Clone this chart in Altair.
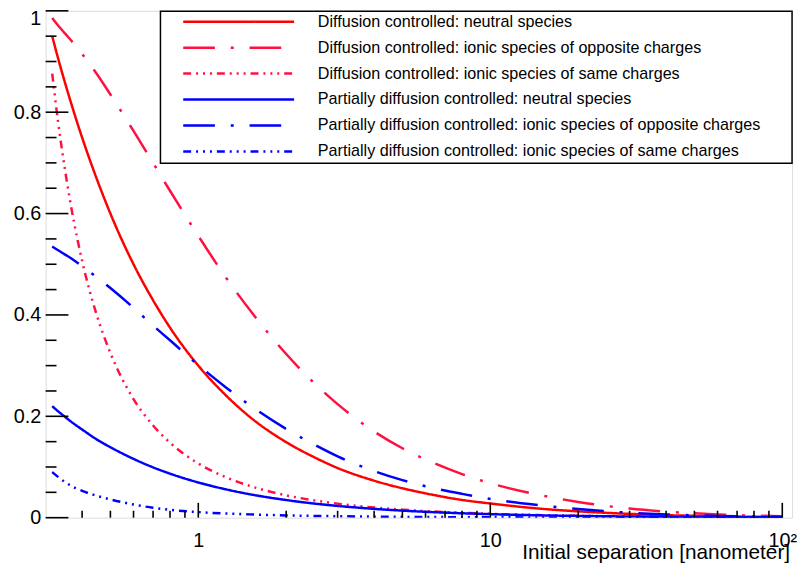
import altair as alt
import pandas as pd

series = [
    "Diffusion controlled: neutral species",
    "Diffusion controlled: ionic species of opposite charges",
    "Diffusion controlled: ionic species of same charges",
    "Partially diffusion controlled: neutral species",
    "Partially diffusion controlled: ionic species of opposite charges",
    "Partially diffusion controlled: ionic species of same charges",
]
colors = ["#ff0000", "#ff1040", "#ff1040", "#0000ff", "#0000ff", "#0000ff"]
dashes = [[1, 0], [32, 16, 3, 16], [8, 5, 2, 5, 2, 5, 2, 5],
          [1, 0], [32, 16, 3, 16], [8, 5, 2, 5, 2, 5, 2, 5]]

separation = [0.316, 0.33, 0.35, 0.375, 0.4, 0.45, 0.5, 0.6, 0.7, 0.8, 1.0, 1.25, 1.5,
              2, 2.5, 3, 4, 5, 6, 8, 10, 15, 20, 30, 40, 60, 80, 100]

diff_neutral = [0.950, 0.909, 0.857, 0.800, 0.750, 0.667, 0.600, 0.500, 0.429, 0.375, 0.300,
                0.240, 0.199, 0.149, 0.119, 0.098, 0.073, 0.058, 0.048, 0.035, 0.028,
                0.0175, 0.0125, 0.0075, 0.005, 0.0028, 0.0018, 0.0012]
diff_opposite = [0.986, 0.972, 0.955, 0.935, 0.915, 0.875, 0.835, 0.763, 0.700, 0.645, 0.556,
                 0.472, 0.410, 0.323, 0.265, 0.224, 0.170, 0.137, 0.115, 0.086, 0.068,
                 0.044, 0.031, 0.018, 0.012, 0.0065, 0.004, 0.0028]
diff_same = [0.876, 0.787, 0.684, 0.584, 0.507, 0.398, 0.325, 0.234, 0.182, 0.148, 0.107,
             0.0792, 0.0627, 0.0441, 0.034, 0.0277, 0.0201, 0.0158, 0.0130, 0.0096, 0.0076,
             0.0050, 0.0037, 0.0025, 0.0018, 0.0012, 0.0009, 0.0007]
part_neutral = [0.220, 0.2106, 0.1986, 0.1853, 0.174, 0.154, 0.139, 0.116, 0.0993, 0.0869, 0.0695,
                0.0556, 0.0463, 0.0348, 0.0278, 0.0232, 0.0174, 0.0139, 0.0116, 0.0087, 0.0070,
                0.0046, 0.0035, 0.0023, 0.0017, 0.0012, 0.0009, 0.0007]
part_opposite = [0.535, 0.528, 0.519, 0.508, 0.496, 0.474, 0.453, 0.414, 0.379, 0.350, 0.301,
                 0.256, 0.222, 0.175, 0.144, 0.121, 0.092, 0.074, 0.062, 0.047, 0.037,
                 0.024, 0.017, 0.0098, 0.0065, 0.0035, 0.0022, 0.0015]
part_same = [0.090, 0.081, 0.070, 0.060, 0.053, 0.043, 0.036, 0.026, 0.0195, 0.0155, 0.011,
             0.0082, 0.0065, 0.0045, 0.0035, 0.0029, 0.0021, 0.0016, 0.0013, 0.0010, 0.0008,
             0.0005, 0.0004, 0.0003, 0.0002, 0.00012, 0.00009, 0.00007]

x_title = ["Initial separation [nanometer]"]
x_major = [1, 10, 100]
x_minor = [0.4, 0.5, 0.6, 0.7, 0.8, 0.9, 2, 3, 4, 5, 6, 7, 8, 9,
           20, 30, 40, 50, 60, 70, 80, 90]
y_major = [0, 0.2, 0.4, 0.6, 0.8, 1.0]
y_minor = [0.05, 0.1, 0.15, 0.25, 0.3, 0.35, 0.45, 0.5, 0.55, 0.65, 0.7, 0.75, 0.85, 0.9, 0.95]

all_values = [diff_neutral, diff_opposite, diff_same, part_neutral, part_opposite, part_same]
rows = []
for name, vals in zip(series, all_values):
    for x, v in zip(separation, vals):
        rows.append({"series": name, "separation": x, "value": v})
df = pd.DataFrame(rows)

FONT = "Liberation Sans"
W, H = 754, 512

xscale = alt.Scale(type="log", domain=[0.3, 108], nice=False)
yscale = alt.Scale(domain=[0, 1], nice=False, zero=False)
cscale = alt.Scale(domain=series, range=colors)
dscale = alt.Scale(domain=series, range=dashes)

lines = alt.Chart(df).mark_line(strokeWidth=2.5, interpolate="monotone", clip=True).encode(
    x=alt.X("separation:Q", scale=xscale,
            axis=alt.Axis(values=x_major, ticks=False, domain=False, grid=False,
                          labelExpr="datum.value >= 100 ? '10\u00b2' : format(datum.value, '~g')",
                          labelFont=FONT, labelFontSize=20, labelColor="black", labelPadding=13,
                          labelFlush=False, labelOverlap=False, title=None)),
    y=alt.Y("value:Q", scale=yscale,
            axis=alt.Axis(values=y_major, format="~g", ticks=False, domain=False, grid=False,
                          labelFont=FONT, labelFontSize=20, labelColor="black", labelPadding=5,
                          labelOffset={"condition": {"test": "datum.value == 1", "value": 8},
                                       "value": 0},
                          labelFlush=False, labelOverlap=False, title=None)),
    color=alt.Color("series:N", scale=cscale, legend=None),
    strokeDash=alt.StrokeDash("series:N", scale=dscale, legend=None),
)

title = alt.Chart(pd.DataFrame({"t": x_title})).mark_text(
    align="right", baseline="alphabetic", font=FONT, fontSize=21, color="black"
).encode(x=alt.value(752), y=alt.value(H + 41.5), text="t:N")

TICK_W = 1.6
xmaj = alt.Chart(pd.DataFrame({"t": x_major})).mark_rule(color="black", strokeWidth=TICK_W).encode(
    x=alt.X("t:Q", scale=xscale), y=alt.value(H), y2=alt.value(H - 15))
xmin = alt.Chart(pd.DataFrame({"t": x_minor})).mark_rule(color="black", strokeWidth=TICK_W).encode(
    x=alt.X("t:Q", scale=xscale), y=alt.value(H), y2=alt.value(H - 7))
ymaj = alt.Chart(pd.DataFrame({"v": y_major})).mark_rule(color="black", strokeWidth=TICK_W).encode(
    y=alt.Y("v:Q", scale=yscale, axis=None), x=alt.value(0), x2=alt.value(23))
ymin = alt.Chart(pd.DataFrame({"v": y_minor})).mark_rule(color="black", strokeWidth=TICK_W).encode(
    y=alt.Y("v:Q", scale=yscale, axis=None), x=alt.value(0), x2=alt.value(11))

leg_df = pd.DataFrame({"series": series})
leg_y = alt.Y("series:N", scale=alt.Scale(type="point", domain=series, range=[11, 142], padding=0),
              axis=None)
box = alt.Chart(pd.DataFrame({"b": [0]})).mark_rect(fill="white", stroke="black", strokeWidth=1.5).encode(
    x=alt.value(116), x2=alt.value(W), y=alt.value(0.5), y2=alt.value(154))
leg_lines = alt.Chart(leg_df).mark_rule(strokeWidth=2.5).encode(
    y=leg_y, x=alt.value(139), x2=alt.value(251),
    color=alt.Color("series:N", scale=cscale, legend=None),
    strokeDash=alt.StrokeDash("series:N", scale=dscale, legend=None),
)
leg_text = alt.Chart(leg_df).mark_text(align="left", baseline="middle", font=FONT,
                                        fontSize=16.3, color="black").encode(
    y=leg_y, x=alt.value(275), text="series:N")

chart = alt.layer(lines, xmaj, xmin, ymaj, ymin, title, box, leg_lines, leg_text).resolve_scale(
    y="independent"
).properties(
    width=W, height=H,
    autosize=alt.AutoSizeParams(type="none"),
    padding={"left": 38, "top": 0, "right": 5, "bottom": 50},
).configure_view(stroke="black", strokeWidth=2).configure(background="white")

chart.save("out.html", embed_options={"renderer": "svg", "actions": False})
